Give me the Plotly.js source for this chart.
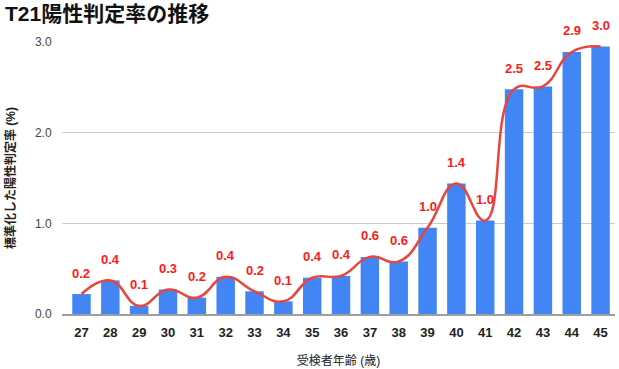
<!DOCTYPE html>
<html>
<head>
<meta charset="utf-8">
<script src="https://cdn.plot.ly/plotly-3.0.1.min.js"></script>
<style>html,body{margin:0;padding:0;background:#fff;}#chart{width:619px;height:369px;}</style>
</head>
<body>
<div id="chart"></div>
<script>
const ages = ['27','28','29','30','31','32','33','34','35','36','37','38','39','40','41','42','43','44','45'];
const rates = [0.22,0.37,0.09,0.27,0.18,0.41,0.25,0.14,0.40,0.42,0.63,0.58,0.95,1.44,1.03,2.48,2.51,2.89,2.95];
const rateLabels = ['0.2','0.4','0.1','0.3','0.2','0.4','0.2','0.1','0.4','0.4','0.6','0.6','1.0','1.4','1.0','2.5','2.5','2.9','3.0'];
const yTicks = [0,1,2,3];
const yTickText = ['0.0','1.0','2.0','3.0'];

const FONT = '"Liberation Sans", Arial, "Noto Sans CJK JP", sans-serif';

const traces = [
  {
    type: 'bar', x: ages, y: rates,
    marker: {color: '#4285f4'},
    hoverinfo: 'skip', showlegend: false
  },
  {
    type: 'scatter', mode: 'lines', x: ages, y: rates,
    line: {color: '#e8453c', width: 2.5, shape: 'spline', smoothing: 1.3},
    hoverinfo: 'skip', showlegend: false, cliponaxis: false
  }
];

const annotations = ages.map((a, i) => ({
  x: i, y: rates[i], xref: 'x', yref: 'y',
  text: '<b>' + rateLabels[i] + '</b>',
  showarrow: false, yanchor: 'middle', yshift: 21,
  font: {family: FONT, size: 13, color: '#ff1a1a'}
}));

const layout = {
  width: 619, height: 369,
  margin: {l: 62, r: 4, t: 42, b: 55},
  paper_bgcolor: '#fff', plot_bgcolor: '#fff',
  bargap: 0.36,
  font: {family: FONT},
  title: {
    text: '<b>T21陽性判定率の推移</b>',
    x: 5/619, xanchor: 'left', xref: 'container', y: 1 - 14/369, yanchor: 'middle', yref: 'container',
    font: {family: FONT, size: 21, color: '#111'}
  },
  xaxis: {
    type: 'category', range: [-0.676, 18.5],
    showgrid: false, zeroline: false,
    showline: true, linecolor: '#9e9e9e', linewidth: 2,
    ticks: 'outside', ticklen: 5, tickcolor: 'rgba(0,0,0,0)',
    tickfont: {family: FONT, size: 13, color: '#222', weight: 'bold'},
    title: {text: '受検者年齢 (歳)', standoff: 18, font: {family: FONT, size: 12, color: '#222'}},
    fixedrange: true
  },
  yaxis: {
    range: [0, 3], tickvals: yTicks, ticktext: yTickText,
    showgrid: true, gridcolor: '#cccccc', gridwidth: 1, zeroline: false,
    ticks: 'outside', ticklen: 7, tickcolor: 'rgba(0,0,0,0)',
    tickfont: {family: FONT, size: 12, color: '#444'},
    title: {text: '<b>標準化した陽性判定率 (%)</b>', standoff: 16, font: {family: FONT, size: 12, color: '#222'}},
    fixedrange: true
  },
  annotations: annotations
};

Plotly.newPlot('chart', traces, layout, {displayModeBar: false, staticPlot: true});
</script>
</body>
</html>
